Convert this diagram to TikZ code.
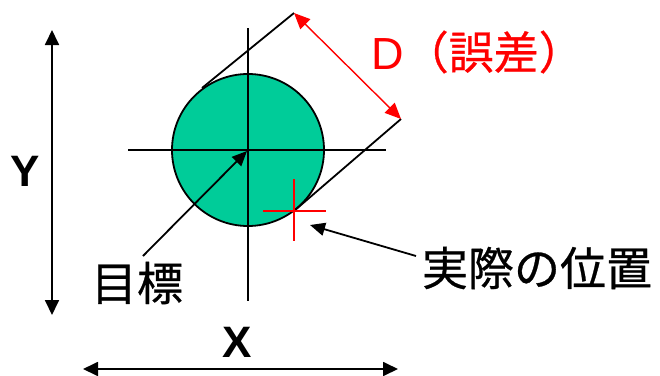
\documentclass[tikz,border=0pt]{standalone}
\usepackage{fontspec}
\setmainfont{Liberation Sans}
\newfontfamily\jp[FakeBold=0.6]{Noto Sans CJK JP}
\usetikzlibrary{arrows.meta}
\definecolor{goal}{RGB}{0,204,153}
\definecolor{errred}{RGB}{255,0,0}
\tikzset{
  blk/.style={line width=1.8pt, black},
  redl/.style={line width=1.4pt, errred},
  dimarrow/.style={blk, {Triangle[length=15pt,width=14pt]}-{Triangle[length=15pt,width=14pt]}},
  redarrow/.style={redl, {Triangle[length=16pt,width=14pt]}-{Triangle[length=16pt,width=14pt]}},
  leader/.style={blk, -{Triangle[length=15pt,width=13pt]}},
  axlabel/.style={inner sep=0pt, font=\fontsize{44}{48}\selectfont\bfseries},
  jplabel/.style={inner sep=0pt, font=\fontsize{46}{50}\selectfont\jp},
}
\begin{document}
\begin{tikzpicture}[x=1pt,y=-1pt]
\useasboundingbox (0,0) rectangle (660,375);
% target circle
\node[circle, draw, line width=1.8pt, fill=goal, minimum size=152pt, inner sep=0pt] (tgt) at (248,150) {};
% crosshair
\coordinate (vt) at (248,28);
\coordinate (vb) at (248,301);
\coordinate (hl) at (128,150);
\coordinate (hr) at (386,150);
\draw[blk] (vt) -- (vb);
\draw[blk] (hl) -- (hr);
% tangent lines
\coordinate (t1) at (202,88);
\coordinate (p1) at (294,13);
\coordinate (t2) at (294,211);
\coordinate (p2) at (401,119);
\draw[blk] (t1) -- (p1);
\draw[blk] (t2) -- (p2);
% error dimension
\draw[redarrow] (p1) -- (p2);
\node[inner sep=0pt, anchor=west, text=errred, font=\fontsize{45}{50}\selectfont] (dlab) at (371,52) {D\jp（誤差）};
% actual position cross
\coordinate (cl) at (263,211);
\coordinate (cr) at (326,211);
\coordinate (ct) at (294,179);
\coordinate (cb) at (294,241);
\draw[redl] (cl) -- (cr);
\draw[redl] (ct) -- (cb);
% axes
\coordinate (yt) at (52,30);
\coordinate (yb) at (52,315);
\draw[dimarrow] (yt) -- (yb);
\node[axlabel] (ylab) at (25,171) {Y};
\coordinate (xl) at (83,369);
\coordinate (xr) at (398,369);
\draw[dimarrow] (xl) -- (xr);
\node[axlabel] (xlab) at (237,342) {X};
% labels
\node[jplabel] (goalab) at (137,283) {目標};
\coordinate (gl) at (143,256);
\coordinate (gc) at (247,151);
\draw[leader] (gl) -- (gc);
\node[jplabel] (actlab) at (537,268) {実際の位置};
\coordinate (al) at (416,256);
\coordinate (at) at (310,225);
\draw[leader] (al) -- (at);
\end{tikzpicture}
\end{document}
